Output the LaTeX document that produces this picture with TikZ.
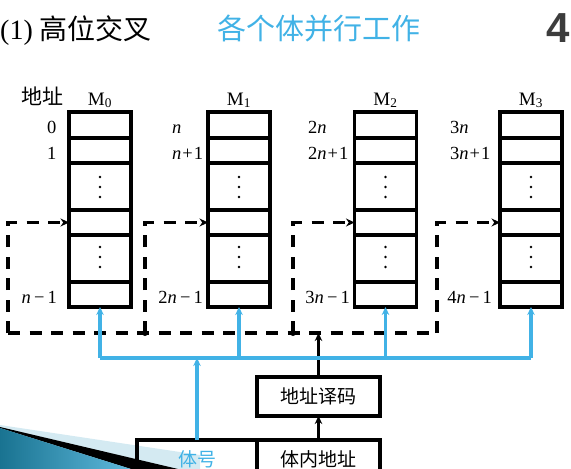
\documentclass[tikz,border=0pt]{standalone}
\usepackage{fontspec}
\setmainfont{Liberation Serif}
\newfontfamily\cjk{Noto Sans CJK SC}
\newfontfamily\pgfont{Liberation Sans}
\usetikzlibrary{positioning,arrows.meta,calc}
\definecolor{bankblue}{RGB}{65,178,230}
\definecolor{pagegray}{RGB}{60,60,60}
\definecolor{decodark}{RGB}{25,115,145}
\definecolor{decolight}{RGB}{95,185,220}
\definecolor{decopale}{RGB}{212,234,242}
\newcommand{\nvar}{\textit{n}}
\newcommand{\plusone}{\kern1pt+\kern1pt1}
\newcommand{\minusone}{\,−\,1}
\tikzset{
  bank/.style={draw,line width=3.1pt,minimum width=62pt,minimum height=195pt,inner sep=0pt,outer sep=0pt},
  rowln/.style={line width=3.1pt},
  cell/.style={draw,line width=3.1pt,minimum height=38pt,inner sep=0pt,outer sep=0pt,
    font=\cjk\fontsize{19}{19}\selectfont},
  busln/.style={line width=3.1pt,dash pattern=on 12pt off 9.5pt},
  loopln/.style={busln,-{Stealth[length=8.5pt,width=8pt]}},
  selln/.style={line width=3.3pt,bankblue},
  selarr/.style={selln,-{Stealth[length=8pt,width=7.5pt]}},
  decarr/.style={line width=3.1pt,-{Stealth[length=8pt,width=7.5pt]}},
  addr/.style={font=\fontsize{18.5}{18.5}\selectfont,inner sep=0pt},
  jn/.style={circle,fill=black,inner sep=0pt,minimum size=6pt},
  vdot/.style={circle,fill=black,inner sep=0pt,minimum size=2.6pt},
}
\begin{document}
\begin{tikzpicture}[x=1pt,y=-1pt]
  \path[use as bounding box] (0,0) rectangle (571,469);
  \clip (0,0) rectangle (571,469);
  % slide corner
  \fill[decopale] (0,425) -- (200,455) -- (200,469) -- (0,469) -- cycle;
  \fill[black] (0,427) -- (178,469) -- (131,469) -- (0,428) -- cycle;
  \shade[left color=decodark,right color=decolight] (0,428) -- (131,469) -- (0,469) -- cycle;
  % title
  \node[anchor=base west,inner sep=0pt] (ttl) at (0,39)
    {\fontsize{28}{28}\selectfont (1) {\cjk 高位交叉}};
  \node[text=bankblue,font=\cjk\fontsize{29}{29}\selectfont] (sub) at (318.5,28) {各个体并行工作};
  \node[text=pagegray,font=\pgfont\bfseries\fontsize{42}{42}\selectfont] (pg) at (558,28) {4};
  % banks
  \node[anchor=base,inner sep=0pt,font=\cjk\fontsize{21}{21}\selectfont] (hd) at (42,104) {地址};
  \foreach \i/\cx/\tl/\br/\a/\b/\c in {
      0/100/47/57/{0}/{1}/{\nvar\minusone},
      1/239/172/203/{\nvar}/{\nvar\plusone}/{2\nvar\minusone},
      2/385.5/308/350/{2\nvar}/{2\nvar\plusone}/{3\nvar\minusone},
      3/531/450/492/{3\nvar}/{3\nvar\plusone}/{4\nvar\minusone}} {
    \node[bank] (m\i) at (\cx,209.5) {};
    \foreach \y in {138,163,210,235,282}
      \draw[rowln] (m\i.west |- 0,\y) -- (m\i.east |- 0,\y);
    \foreach \y in {177,187,197,247,257,267}
      \node[vdot] at (\cx,\y) {};
    \node[anchor=base,inner sep=0pt,font=\fontsize{19}{19}\selectfont] (mt\i) at (\cx,105) {M\textsubscript{\i}};
    \node[addr,anchor=base west] (a\i) at (\tl,133) {\a};
    \node[addr,anchor=base west] (b\i) at (\tl,159) {\b};
    \node[addr,anchor=base east] (c\i) at (\br,303) {\c};
    \coordinate (in\i) at (m\i.west |- 0,222.5);
  }
  % bus of dashed loops
  \coordinate (busL) at (8,333);
  \coordinate (busR) at (437,333);
  \draw[busln] (busL) -- (busR);
  \node[jn] (j1) at (145,333) {};
  \node[jn] (j2) at (293,333) {};
  \draw[loopln] (busL) -- (busL |- in0) -- (in0);
  \draw[loopln] (j1.center) -- (j1 |- in1) -- (in1);
  \draw[loopln] (j2.center) -- (j2 |- in2) -- (in2);
  \draw[loopln] (busR) -- (busR |- in3) -- (in3);
  % address register and decoder
  \node[cell,minimum width=123pt] (inner) at (318.5,459) {体内地址};
  \node[cell,minimum width=120pt,left=0pt of inner,text=bankblue] (num) {体号};
  \node[cell,minimum width=123pt,minimum height=39pt,above=24pt of inner] (dec) {地址译码};
  \draw[decarr] (inner) -- (dec);
  \draw[decarr] (dec) -- (dec.north |- busL);
  % bank select
  \coordinate (selL) at (m0.south |- 0,358);
  \draw[selln] (selL) -- (m3.south |- selL);
  \foreach \i in {0,...,3}
    \draw[selarr] (m\i.south |- selL) -- (m\i.south);
  \draw[selarr] (num) -- (num.north |- selL);
\end{tikzpicture}
\end{document}
